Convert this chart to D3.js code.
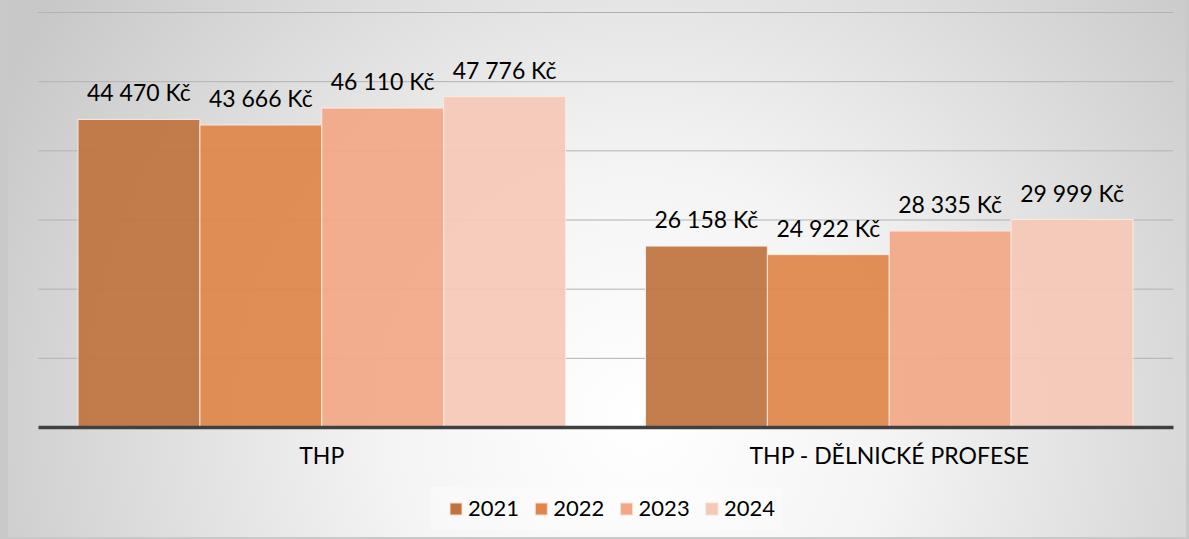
<!DOCTYPE html>
<html>
<head>
<meta charset="utf-8">
<script src="https://d3js.org/d3.v7.min.js"></script>
<style>
  html, body { margin: 0; padding: 0; background: #c9c9c9; }
  svg { display: block; }
  text { font-family: "Lato", "Open Sans", sans-serif; fill: #000; }
</style>
</head>
<body>
<div class="chart"></div>
<script>
// categories on the x axis
var categories = ["THP", "THP - DĚLNICKÉ PROFESE"];
// series (years)
var years = ["2021", "2022", "2023", "2024"];
// values per year, one per category
var values2021 = [44470, 26158];
var values2022 = [43666, 24922];
var values2023 = [46110, 28335];
var values2024 = [47776, 29999];
// gridline ticks
var yTicks = [0, 10000, 20000, 30000, 40000, 50000, 60000];

var seriesColors = ["#c0733f", "#e0864a", "#f2a886", "#f5c8b8"];

var svgWidth = 1189;
var svgHeight = 539;

// build the table d3 needs from the small arrays
var allValues = [values2021, values2022, values2023, values2024];
var table = categories.map(function(c, i) {
  return {
    category: c,
    items: years.map(function(y, j) { return { year: y, value: allValues[j][i] }; })
  };
});

// czech style number format: 44 470 Kč
var czLocale = d3.formatLocale({ decimal: ",", thousands: " ", grouping: [3], currency: ["", " Kč"] });
var fmt = czLocale.format(",.0f");

var svg = d3.select(".chart")
  .append("svg")
  .attr("width", svgWidth)
  .attr("height", svgHeight);

// radial background gradient
var defs = svg.append("defs");
var grad = defs.append("radialGradient")
  .attr("id", "bg")
  .attr("gradientUnits", "userSpaceOnUse")
  .attr("cx", 640).attr("cy", 420).attr("r", 720);
grad.append("stop").attr("offset", "0%").attr("stop-color", "#ffffff");
grad.append("stop").attr("offset", "35%").attr("stop-color", "#f4f4f4");
grad.append("stop").attr("offset", "100%").attr("stop-color", "#c8c8c8");

svg.append("rect")
  .attr("x", 8).attr("y", 0)
  .attr("width", 1178).attr("height", 537)
  .attr("fill", "url(#bg)");

// scales
var x0 = d3.scaleBand()
  .domain(categories)
  .range([38, 1173])
  .padding(0);

var x1 = d3.scaleBand()
  .domain(years)
  .range([40, x0.bandwidth() - 40])
  .padding(0);

var y = d3.scaleLinear()
  .domain([0, 60000])
  .range([427, 12]);

var color = d3.scaleOrdinal()
  .domain(years)
  .range(seriesColors);

// gridlines
var yAxis = d3.axisLeft(y)
  .tickValues(yTicks.slice(1))
  .tickSize(-(1173 - 38))
  .tickFormat("");

var grid = svg.append("g")
  .attr("transform", "translate(38,0)")
  .call(yAxis);
grid.select(".domain").remove();
grid.selectAll(".tick line")
  .attr("stroke", "#b2b2b2")
  .attr("stroke-width", 1);

// bars
var groups = svg.selectAll(".group")
  .data(table)
  .enter()
  .append("g")
  .attr("class", "group")
  .attr("transform", d => `translate(${x0(d.category)},0)`);

groups.selectAll("rect")
  .data(d => d.items)
  .enter()
  .append("rect")
  .attr("x", d => x1(d.year))
  .attr("y", d => y(d.value))
  .attr("width", x1.bandwidth())
  .attr("height", d => y(0) - y(d.value))
  .attr("fill", d => color(d.year))
  .attr("fill-opacity", 0.93)
  .attr("stroke", "#fbe9e0")
  .attr("stroke-width", 1);

// value labels
groups.selectAll(".val")
  .data(d => d.items)
  .enter()
  .append("text")
  .attr("class", "val")
  .attr("x", d => x1(d.year) + x1.bandwidth() / 2)
  .attr("y", d => y(d.value) - 18)
  .attr("text-anchor", "middle")
  .style("font-size", "23px")
  .text(d => fmt(d.value) + " Kč");

// x axis line
var xAxis = d3.axisBottom(x0).tickSize(0).tickPadding(0);
var xg = svg.append("g")
  .attr("transform", `translate(0, ${y(0)})`)
  .call(xAxis);
xg.select(".domain")
  .attr("stroke", "#404040")
  .attr("stroke-width", 3.5);
xg.selectAll(".tick text")
  .attr("y", 37)
  .attr("dy", 0)
  .style("font-size", "23px")
  .style("font-family", "Lato, sans-serif")
  .attr("fill", "#000");

// legend
var legend = svg.append("g");
legend.append("rect")
  .attr("x", 430).attr("y", 487)
  .attr("width", 352).attr("height", 43)
  .attr("fill", "#ffffff")
  .attr("fill-opacity", 0.3);

var legendItems = legend.selectAll(".item")
  .data(years)
  .enter()
  .append("g")
  .attr("class", "item")
  .attr("transform", (d, i) => `translate(${450 + i * 85.3}, 0)`);

legendItems.append("rect")
  .attr("x", 0).attr("y", 503)
  .attr("width", 12).attr("height", 12)
  .attr("fill", d => color(d))
  .attr("stroke", "#f6ddd0")
  .attr("stroke-width", 1);

legendItems.append("text")
  .attr("x", 18).attr("y", 516)
  .style("font-size", "22px")
  .text(d => d);
</script>
</body>
</html>
